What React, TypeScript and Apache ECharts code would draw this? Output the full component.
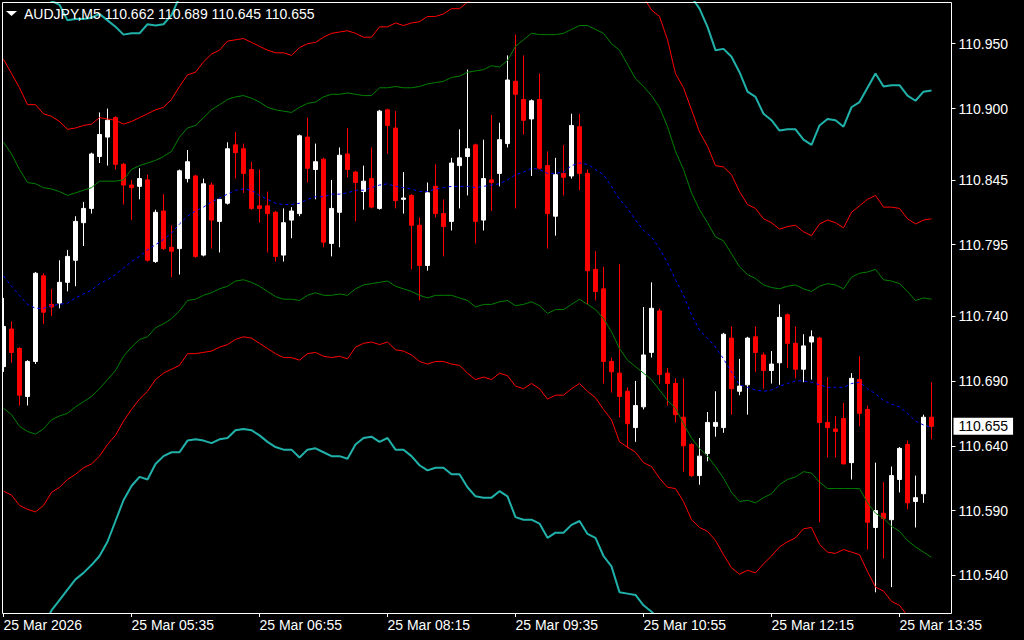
import React, { useEffect, useRef } from 'react';
import * as echarts from 'echarts';

const symbolName = 'AUDJPY';
const timeframe = 'M5';
const dayLabel = '25 Mar';
const firstLabel = '25 Mar 2026';
const startMinutes = 4 * 60 + 15;
const stepMinutes = 5;

const opens = [110.701,110.730,110.715,110.678,110.705,110.771,110.749,110.750,110.766,110.783,
110.812,110.823,110.863,110.878,110.893,110.857,110.841,110.840,110.845,110.782,
110.821,110.793,110.792,110.846,110.848,110.787,110.841,110.813,110.827,110.872,
110.869,110.853,110.825,110.825,110.820,110.787,110.814,110.819,110.878,110.853,
110.861,110.796,110.820,110.865,110.851,110.836,110.846,110.823,110.899,110.885,
110.830,110.833,110.810,110.779,110.840,110.819,110.813,110.856,110.863,110.872,
110.814,110.845,110.850,110.873,110.921,110.907,110.892,110.907,110.856,110.817,
110.850,110.848,110.886,110.850,110.776,110.761,110.705,110.696,110.682,110.654,
110.670,110.712,110.744,110.696,110.688,110.662,110.641,110.617,110.634,110.655,
110.654,110.723,110.682,110.687,110.724,110.710,110.698,110.704,110.741,110.719,
110.699,110.720,110.723,110.658,110.653,110.661,110.627,110.691,110.668,110.577,
110.588,110.583,110.614,110.641,110.597,110.603,110.662];

const closes = [110.732,110.712,110.679,110.705,110.773,110.743,110.747,110.766,110.786,110.813,
110.823,110.865,110.880,110.891,110.857,110.841,110.839,110.846,110.783,110.820,
110.792,110.790,110.852,110.859,110.786,110.842,110.814,110.830,110.869,110.866,
110.850,110.823,110.823,110.819,110.786,110.812,110.821,110.879,110.854,110.859,
110.797,110.823,110.864,110.853,110.843,110.844,110.824,110.898,110.887,110.829,
110.831,110.810,110.779,110.835,110.819,110.809,110.858,110.862,110.869,110.813,
110.846,110.843,110.876,110.922,110.911,110.891,110.906,110.854,110.819,110.849,
110.847,110.887,110.850,110.775,110.759,110.705,110.697,110.678,110.657,110.671,
110.710,110.746,110.695,110.688,110.664,110.640,110.617,110.632,110.658,110.658,
110.726,110.684,110.686,110.723,110.712,110.698,110.703,110.739,110.719,110.699,
110.717,110.724,110.658,110.654,110.651,110.626,110.692,110.665,110.581,110.590,
110.584,110.617,110.638,110.596,110.600,110.662,110.655];

const lows = [110.697,110.704,110.671,110.671,110.703,110.734,110.740,110.746,110.759,110.763,
110.794,110.819,110.858,110.856,110.853,110.826,110.814,110.830,110.782,110.781,
110.791,110.770,110.772,110.843,110.785,110.786,110.792,110.789,110.826,110.846,
110.835,110.822,110.812,110.789,110.782,110.782,110.800,110.817,110.843,110.830,
110.793,110.786,110.793,110.847,110.813,110.822,110.823,110.822,110.865,110.823,
110.819,110.776,110.752,110.775,110.816,110.786,110.806,110.823,110.833,110.796,
110.806,110.821,110.840,110.870,110.823,110.880,110.848,110.853,110.792,110.802,
110.833,110.846,110.837,110.749,110.752,110.688,110.681,110.662,110.638,110.643,
110.668,110.708,110.688,110.671,110.658,110.620,110.616,110.610,110.628,110.647,
110.650,110.664,110.679,110.664,110.697,110.684,110.688,110.687,110.700,110.692,
110.689,110.691,110.581,110.631,110.631,110.626,110.614,110.655,110.560,110.527,
110.553,110.531,110.604,110.591,110.577,110.596,110.645];

const highs = [110.754,110.736,110.716,110.706,110.774,110.773,110.761,110.783,110.791,110.817,
110.828,110.866,110.897,110.900,110.894,110.858,110.845,110.854,110.849,110.822,
110.834,110.810,110.853,110.868,110.849,110.846,110.843,110.830,110.874,110.882,
110.873,110.859,110.853,110.836,110.821,110.823,110.824,110.880,110.893,110.873,
110.862,110.845,110.870,110.885,110.852,110.856,110.870,110.899,110.900,110.898,
110.851,110.834,110.816,110.843,110.857,110.830,110.862,110.884,110.930,110.873,
110.876,110.895,110.889,110.941,110.957,110.941,110.907,110.927,110.867,110.862,
110.872,110.896,110.896,110.853,110.790,110.778,110.708,110.780,110.685,110.690,
110.747,110.766,110.746,110.700,110.692,110.692,110.642,110.646,110.666,110.682,
110.727,110.732,110.707,110.724,110.732,110.712,110.713,110.749,110.742,110.732,
110.726,110.729,110.724,110.693,110.663,110.673,110.696,110.709,110.671,110.627,
110.612,110.624,110.639,110.644,110.617,110.664,110.689];

const midLine = [110.771,110.763,110.756,110.749,110.746,110.746,110.748,110.749,110.750,110.754,
110.757,110.760,110.765,110.768,110.772,110.777,110.782,110.786,110.791,110.795,
110.799,110.804,110.811,110.817,110.821,110.824,110.828,110.831,110.834,110.837,
110.838,110.837,110.833,110.830,110.827,110.826,110.826,110.827,110.830,110.832,
110.832,110.834,110.834,110.835,110.837,110.837,110.839,110.841,110.842,110.840,
110.839,110.838,110.836,110.836,110.838,110.839,110.840,110.840,110.840,110.839,
110.840,110.841,110.842,110.845,110.849,110.851,110.854,110.853,110.850,110.850,
110.851,110.856,110.858,110.857,110.853,110.849,110.840,110.830,110.823,110.814,
110.806,110.801,110.792,110.781,110.768,110.756,110.741,110.729,110.723,110.716,
110.707,110.697,110.687,110.685,110.683,110.682,110.683,110.686,110.688,110.690,
110.690,110.689,110.687,110.685,110.685,110.685,110.688,110.689,110.684,110.680,
110.675,110.672,110.670,110.665,110.659,110.656,110.654];

const greenUpper = [110.874,110.865,110.853,110.843,110.842,110.839,110.838,110.836,110.833,110.835,
110.837,110.839,110.844,110.844,110.844,110.845,110.853,110.856,110.858,110.860,
110.863,110.867,110.878,110.885,110.887,110.893,110.899,110.903,110.907,110.909,
110.910,110.908,110.905,110.901,110.899,110.898,110.897,110.901,110.904,110.905,
110.909,110.911,110.911,110.912,110.911,110.910,110.910,110.916,110.916,110.917,
110.916,110.916,110.917,110.919,110.920,110.921,110.924,110.925,110.928,110.929,
110.930,110.933,110.932,110.937,110.948,110.953,110.958,110.957,110.957,110.957,
110.958,110.961,110.964,110.964,110.961,110.958,110.950,110.945,110.934,110.923,
110.917,110.910,110.901,110.886,110.867,110.853,110.835,110.822,110.812,110.801,
110.798,110.788,110.778,110.772,110.769,110.764,110.762,110.761,110.763,110.764,
110.761,110.759,110.763,110.765,110.764,110.761,110.770,110.773,110.774,110.776,
110.768,110.767,110.765,110.759,110.752,110.754,110.753];

const greenLower = [110.669,110.664,110.655,110.651,110.649,110.653,110.660,110.663,110.665,110.670,
110.674,110.678,110.684,110.691,110.698,110.709,110.716,110.722,110.724,110.731,
110.734,110.738,110.744,110.752,110.753,110.756,110.758,110.761,110.763,110.767,
110.768,110.766,110.763,110.759,110.755,110.753,110.753,110.752,110.756,110.758,
110.756,110.756,110.757,110.756,110.761,110.764,110.765,110.766,110.767,110.763,
110.761,110.759,110.756,110.754,110.756,110.756,110.756,110.754,110.752,110.747,
110.749,110.749,110.751,110.752,110.748,110.749,110.751,110.748,110.742,110.745,
110.745,110.749,110.753,110.749,110.745,110.738,110.728,110.715,110.706,110.701,
110.696,110.691,110.683,110.675,110.669,110.657,110.646,110.638,110.632,110.624,
110.615,110.604,110.597,110.598,110.596,110.600,110.603,110.610,110.614,110.616,
110.620,110.619,110.612,110.607,110.607,110.607,110.607,110.607,110.596,110.588,
110.584,110.578,110.574,110.567,110.562,110.558,110.554];

const redUpper = [110.938,110.927,110.916,110.903,110.903,110.896,110.894,110.890,110.884,110.885,
110.887,110.888,110.893,110.892,110.891,110.888,110.890,110.893,110.896,110.899,
110.901,110.907,110.917,110.926,110.928,110.936,110.942,110.945,110.952,110.953,
110.954,110.951,110.948,110.945,110.943,110.943,110.941,110.947,110.950,110.951,
110.955,110.958,110.959,110.960,110.958,110.955,110.955,110.963,110.963,110.966,
110.964,110.966,110.967,110.971,110.971,110.973,110.977,110.977,110.982,110.985,
110.986,110.990,110.987,110.995,111.009,111.017,111.023,111.021,111.023,111.023,
111.024,111.026,111.030,111.030,111.028,111.026,111.018,111.017,111.002,110.991,
110.986,110.976,110.971,110.953,110.927,110.916,110.899,110.882,110.871,110.856,
110.855,110.849,110.836,110.826,110.823,110.815,110.812,110.807,110.809,110.810,
110.805,110.802,110.811,110.814,110.812,110.808,110.820,110.825,110.830,110.833,
110.824,110.824,110.823,110.815,110.811,110.814,110.815];

const redLower = [110.605,110.602,110.594,110.591,110.589,110.594,110.604,110.608,110.614,110.618,
110.623,110.626,110.632,110.641,110.648,110.659,110.668,110.676,110.682,110.691,
110.696,110.699,110.702,110.711,110.711,110.712,110.713,110.716,110.718,110.722,
110.724,110.723,110.719,110.715,110.711,110.708,110.708,110.706,110.711,110.712,
110.709,110.708,110.709,110.707,110.716,110.719,110.720,110.718,110.720,110.714,
110.713,110.710,110.705,110.703,110.705,110.705,110.703,110.702,110.696,110.691,
110.693,110.691,110.696,110.694,110.686,110.684,110.688,110.684,110.676,110.679,
110.679,110.684,110.688,110.682,110.677,110.668,110.660,110.643,110.639,110.635,
110.627,110.624,110.615,110.608,110.607,110.597,110.583,110.577,110.574,110.567,
110.556,110.546,110.541,110.544,110.542,110.549,110.555,110.562,110.566,110.569,
110.576,110.577,110.564,110.558,110.557,110.560,110.558,110.556,110.543,110.531,
110.528,110.520,110.517,110.509,110.502,110.497,110.492];

const cyanUpper = [111.042,111.030,111.010,110.996,110.997,110.988,110.983,110.980,110.968,110.969,
110.969,110.970,110.973,110.968,110.963,110.957,110.958,110.958,110.965,110.964,
110.965,110.972,110.986,110.995,110.992,111.004,111.015,111.019,111.024,111.025,
111.026,111.023,111.020,111.017,111.015,111.016,111.012,111.021,111.022,111.024,
111.033,111.036,111.036,111.036,111.032,111.028,111.025,111.037,111.037,111.042,
111.040,111.044,111.048,111.054,111.053,111.053,111.061,111.062,111.069,111.076,
111.076,111.081,111.077,111.087,111.108,111.119,111.128,111.125,111.129,111.129,
111.131,111.131,111.136,111.137,111.137,111.135,111.128,111.132,111.112,111.100,
111.097,111.088,111.078,111.056,111.027,111.009,110.986,110.977,110.963,110.945,
110.946,110.940,110.928,110.913,110.909,110.896,110.891,110.883,110.884,110.884,
110.876,110.872,110.887,110.892,110.891,110.886,110.901,110.905,110.916,110.927,
110.917,110.918,110.918,110.910,110.906,110.913,110.914];

const cyanLower = [110.504,110.503,110.492,110.492,110.493,110.501,110.513,110.521,110.529,110.537,
110.542,110.548,110.555,110.566,110.582,110.598,110.609,110.616,110.614,110.626,
110.632,110.635,110.635,110.644,110.645,110.644,110.642,110.645,110.646,110.652,
110.653,110.652,110.648,110.643,110.639,110.637,110.637,110.631,110.637,110.638,
110.635,110.632,110.632,110.630,110.641,110.646,110.647,110.643,110.646,110.637,
110.637,110.632,110.625,110.621,110.623,110.623,110.618,110.618,110.608,110.601,
110.600,110.600,110.605,110.601,110.585,110.583,110.583,110.580,110.569,110.573,
110.573,110.579,110.582,110.572,110.569,110.555,110.547,110.527,110.526,110.525,
110.517,110.512,110.506,110.505,110.509,110.497,110.492,110.490,110.484,110.474,
110.465,110.453,110.451,110.456,110.455,110.467,110.475,110.487,110.494,110.497,
110.505,110.506,110.492,110.480,110.480,110.482,110.477,110.475,110.452,110.440,
110.436,110.425,110.418,110.410,110.404,110.399,110.392];

const yTickValues = [110.54, 110.59, 110.64, 110.69, 110.74, 110.795, 110.845, 110.9, 110.95];
const yMin = 110.51106;
const yMax = 110.98215;
const labelEvery = 16;
const padCategories = 2;

const FONT = '"Liberation Sans", Arial, sans-serif';

function pad2(n: number) { return String(n).padStart(2, '0'); }

export default function App() {
  const ref = useRef<HTMLDivElement>(null);

  useEffect(() => {
    document.body.style.margin = '0';
    document.body.style.background = '#000';
    if (!ref.current) return;
    const chart = echarts.init(ref.current, undefined, { renderer: 'svg' });

    const n = opens.length;
    const times = opens.map((_, i) => {
      const m = startMinutes + i * stepMinutes;
      return pad2(Math.floor(m / 60)) + ':' + pad2(m % 60);
    });
    const categories = [...times];
    for (let i = 0; i < padCategories; i++) categories.push(' '.repeat(i + 1));
    const candles = opens.map((o, i) => [o, closes[i], lows[i], highs[i]]);
    const last = n - 1;
    const header = `${symbolName},${timeframe} ${opens[last].toFixed(3)} ${highs[last].toFixed(3)} ${lows[last].toFixed(3)} ${closes[last].toFixed(3)}`;

    const showIdx = (i: number) => i % labelEvery === 0 && i < n;

    const lineSeries = (name: string, data: number[], color: string, width: number, type: any = 'solid') => ({
      name, type: 'line', data, symbol: 'none', showSymbol: false, silent: true, z: 3,
      lineStyle: { color, width, type }, clip: true,
    });

    chart.setOption({
      animation: false,
      backgroundColor: '#000000',
      grid: { left: -0.5, top: 2, width: 952, height: 611, containLabel: false, outerBoundsMode: 'none' },
      xAxis: {
        type: 'category',
        data: categories,
        boundaryGap: true,
        axisLine: { show: false },
        axisTick: { show: true, interval: (i: number) => showIdx(i), alignWithLabel: true, length: 4, lineStyle: { color: '#ffffff' } },
        axisLabel: {
          interval: (i: number) => showIdx(i),
          align: 'left',
          margin: 5,
          color: '#ffffff',
          fontSize: 14,
          fontFamily: FONT,
          formatter: (v: string, i: number) => (i === 0 ? firstLabel : `${dayLabel} ${v}`),
        },
        splitLine: { show: false },
      },
      yAxis: {
        type: 'value',
        position: 'right',
        min: yMin,
        max: yMax,
        scale: true,
        axisLine: { show: false },
        splitLine: { show: false },
        axisTick: { show: true, length: 4, customValues: yTickValues, lineStyle: { color: '#ffffff' } },
        axisLabel: {
          customValues: yTickValues,
          margin: 7,
          color: '#ffffff',
          fontSize: 14,
          fontFamily: FONT,
          formatter: (v: number) => v.toFixed(3),
        },
      },
      series: [
        {
          name: 'price', type: 'candlestick', data: candles, barWidth: 5, z: 2, clip: false,
          itemStyle: { color: '#ffffff', color0: '#ff0000', borderColor: '#ffffff', borderColor0: '#ff0000', borderWidth: 1 },
          markLine: {
            silent: true,
            precision: 3,
            symbol: ['none', 'none'],
            lineStyle: { color: 'rgba(0,0,0,0)', width: 0 },
            label: {
              show: true, position: 'end', distance: 2,
              formatter: (p: any) => Number(p.value).toFixed(3),
              color: '#000000', backgroundColor: '#ffffff', padding: [2, 5, 1, 5],
              fontSize: 14, fontFamily: FONT,
            },
            data: [{ yAxis: closes[last] }],
          },
        },
        lineSeries('cyanUpper', cyanUpper, '#20b2aa', 2),
        lineSeries('cyanLower', cyanLower, '#20b2aa', 2),
        lineSeries('redUpper', redUpper, '#ff0000', 1),
        lineSeries('redLower', redLower, '#ff0000', 1),
        lineSeries('greenUpper', greenUpper, '#008000', 1),
        lineSeries('greenLower', greenLower, '#008000', 1),
        lineSeries('mid', midLine, '#0000ff', 1, [3, 3]),
      ],
      graphic: [
        { type: 'rect', z: 99, silent: true, shape: { x: 0, y: 0, width: 2, height: 640 }, style: { fill: '#000000' } },
        { type: 'rect', z: 100, silent: true, shape: { x: 2.5, y: 2.5, width: 949, height: 611 }, style: { fill: 'none', stroke: '#ffffff', lineWidth: 1 } },
        { type: 'polygon', z: 101, silent: true, shape: { points: [[6, 11], [17, 11], [11.5, 16]] }, style: { fill: '#ffffff' } },
        { type: 'text', z: 101, silent: true, x: 24, y: 14, style: { text: header, fill: '#ffffff', font: `14px ${FONT}`, verticalAlign: 'middle', textVerticalAlign: 'middle' } },
      ],
    });

    return () => { chart.dispose(); };
  }, []);

  return <div ref={ref} style={{ width: 1024, height: 640, background: '#000' }} />;
}
